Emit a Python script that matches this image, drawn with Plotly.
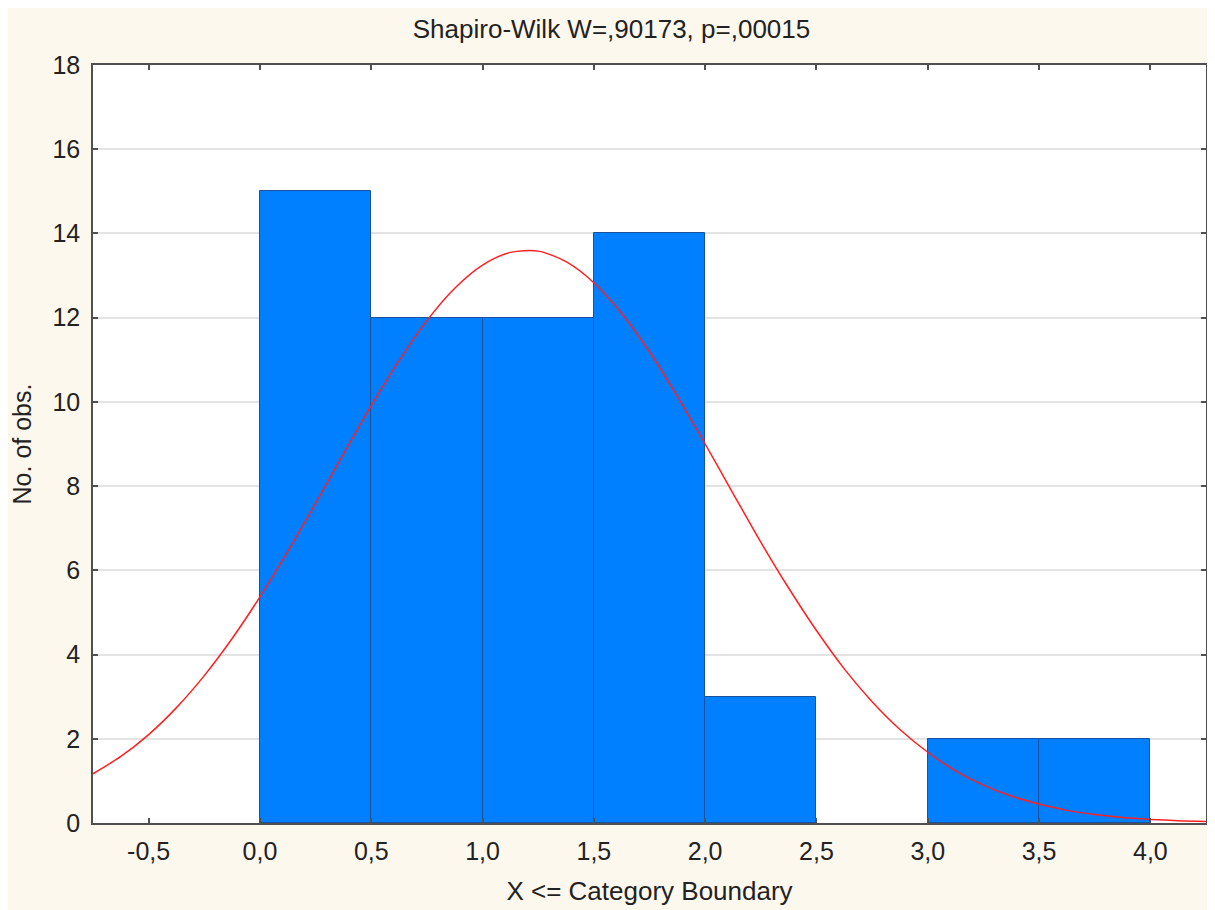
import plotly.graph_objects as go

# Histogram data (bin lower edges, width 0.5)
bin_lower = [0.0, 0.5, 1.0, 1.5, 2.0, 2.5, 3.0, 3.5]
bin_width = 0.5
counts = [15, 12, 12, 14, 3, 0, 2, 2]

# Expected normal curve
curve_x = [-0.75, -0.625, -0.5, -0.375, -0.25, -0.125, 0.0, 0.125, 0.25, 0.375,
           0.5, 0.625, 0.75, 0.875, 1.0, 1.125, 1.25, 1.375, 1.5, 1.625,
           1.75, 1.875, 2.0, 2.125, 2.25, 2.375, 2.5, 2.625, 2.75, 2.875,
           3.0, 3.125, 3.25, 3.375, 3.5, 3.625, 3.75, 3.875, 4.0, 4.125, 4.25]
curve_y = [1.17, 1.58, 2.10, 2.74, 3.50, 4.38, 5.37, 6.45, 7.59, 8.76,
           9.91, 10.98, 11.93, 12.70, 13.25, 13.55, 13.58, 13.33, 12.83, 12.10,
           11.19, 10.13, 9.00, 7.83, 6.67, 5.58, 4.57, 3.66, 2.88, 2.22,
           1.68, 1.24, 0.90, 0.64, 0.45, 0.30, 0.20, 0.13, 0.086, 0.054, 0.033]

x_ticks = [-0.5, 0.0, 0.5, 1.0, 1.5, 2.0, 2.5, 3.0, 3.5, 4.0]
x_tick_labels = ["-0,5", "0,0", "0,5", "1,0", "1,5", "2,0", "2,5", "3,0", "3,5", "4,0"]
y_ticks = [0, 2, 4, 6, 8, 10, 12, 14, 16, 18]

title_text = "Shapiro-Wilk W=,90173, p=,00015"
x_title = "X <= Category Boundary"
y_title = "No. of obs."

FONT = "Liberation Sans, Arial, sans-serif"
AXIS_COL = "#505050"
TXT = "#222222"
BAR_EDGE = "#1a50a0"

W, H = 1207, 902

edge_colors = [BAR_EDGE if c > 0 else "rgba(0,0,0,0)" for c in counts]

fig = go.Figure()
fig.add_trace(go.Bar(
    x=bin_lower, y=counts, width=bin_width, offset=0,
    marker=dict(color="#007FFF", line=dict(color=edge_colors, width=1)),
    showlegend=False, hoverinfo="skip",
))
fig.add_trace(go.Scatter(
    x=curve_x, y=curve_y, mode="lines",
    line=dict(color="#FF2020", width=1.5, shape="spline", smoothing=0.8),
    showlegend=False, hoverinfo="skip",
))

fig.update_layout(
    width=W, height=H,
    margin=dict(l=85, r=7, t=57, b=87),
    paper_bgcolor="#FDF8EE",
    plot_bgcolor="#FFFFFF",
    font=dict(family=FONT, size=25, color=TXT),
    title=dict(text=title_text, x=0.5, xanchor="center", y=1 - 21 / H,
               yanchor="middle", font=dict(size=26, color=TXT)),
    bargap=0,
)

fig.update_xaxes(
    range=[-0.75, 4.25], tickvals=x_ticks, ticktext=x_tick_labels,
    showgrid=False, zeroline=False,
    showline=True, linecolor=AXIS_COL, linewidth=1.5, mirror="ticks",
    ticks="inside", ticklen=5, tickcolor=AXIS_COL, tickwidth=1.5,
    ticklabelstandoff=5,
    tickfont=dict(size=25, color=TXT),
    title=dict(text=x_title, font=dict(size=26, color=TXT), standoff=18),
)
fig.update_yaxes(
    range=[0, 18], tickvals=y_ticks,
    showgrid=True, gridcolor="#E3E3E3", gridwidth=1.5, zeroline=False,
    showline=True, linecolor=AXIS_COL, linewidth=1.5, mirror="ticks",
    ticks="inside", ticklen=5, tickcolor=AXIS_COL, tickwidth=1.5,
    ticklabelstandoff=6,
    tickfont=dict(size=25, color=TXT),
    title=dict(text=y_title, font=dict(size=25, color=TXT), standoff=18),
)

fig.write_html("out.html")
